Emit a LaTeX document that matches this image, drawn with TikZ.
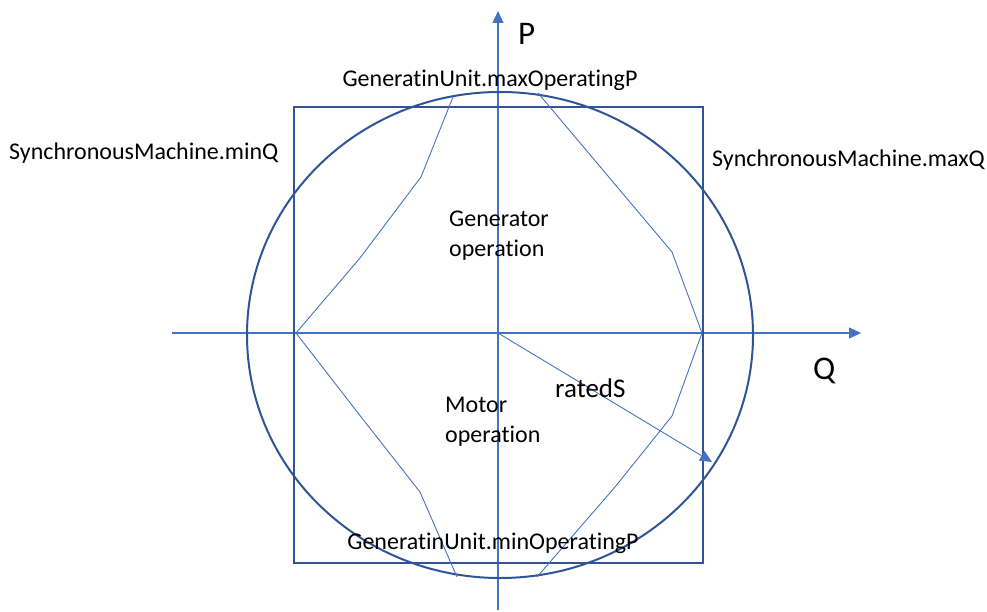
\documentclass[tikz,border=0pt]{standalone}
\usepackage{fontspec}
\setmainfont{Carlito}[Ligatures=CommonOff]
\usetikzlibrary{arrows.meta}
\definecolor{darkblue}{HTML}{2F5597}
\definecolor{lightblue}{HTML}{4472C4}
\tikzset{
  frame/.style={draw=darkblue, line width=2pt},
  axis/.style={draw=lightblue, line width=1.2pt, -{Triangle[length=12pt,width=11pt]}},
  curve/.style={draw=lightblue, line width=0.9pt, line join=round},
  lbl/.style={inner sep=0pt, font=\fontsize{24pt}{28pt}\selectfont, text=black},
  big/.style={inner sep=0pt, font=\fontsize{33pt}{38pt}\selectfont, text=black}
}
\begin{document}
\begin{tikzpicture}[x=1pt, y=-1pt]
\useasboundingbox (0,0) rectangle (987,612);
% axes
\coordinate (qs) at (172,333);
\coordinate (qe) at (861,333);
\coordinate (ps) at (498,610);
\coordinate (pe) at (498,11);
\draw[axis] (qs) -- (qe);
\draw[axis] (ps) -- (pe);
% rectangle and circle
\coordinate (r1) at (294,107);
\coordinate (r2) at (703,563);
\draw[frame] (r1) rectangle (r2);
\coordinate (c0) at (500,335);
\draw[frame] (c0) ellipse [x radius=253pt, y radius=243pt];
% capability curve
\coordinate (a1) at (453,97);
\coordinate (a2) at (421,177);
\coordinate (a3) at (360,258);
\coordinate (a4) at (296,333);
\coordinate (a5) at (358,413);
\coordinate (a6) at (420,492);
\coordinate (a7) at (457,577);
\coordinate (b1) at (538,93);
\coordinate (b2) at (672,252);
\coordinate (b3) at (702,333);
\coordinate (b4) at (672,416);
\coordinate (b5) at (615,487);
\coordinate (b6) at (537,577);
\draw[curve] (a1) -- (a2) -- (a3) -- (a4) -- (a5) -- (a6) -- (a7);
\draw[curve] (b1) -- (b2) -- (b3) -- (b4) -- (b5) -- (b6);
% ratedS arrow
\coordinate (o) at (498,333);
\coordinate (s) at (712,462);
\draw[curve, -{Triangle[length=12pt,width=11pt]}] (o) -- (s);
% labels
\node[big, anchor=base west] (plabel) at (518,45) {P};
\node[big, anchor=base west] (qlabel) at (813,379) {Q};
\node[lbl, anchor=base] (maxp) at (490,87) {GeneratinUnit.maxOperatingP};
\node[lbl, anchor=base] (minp) at (493,549) {GeneratinUnit.minOperatingP};
\node[lbl, anchor=base west] (minq) at (9,160) {SynchronousMachine.minQ};
\node[lbl, anchor=base west] (maxq) at (712,167) {SynchronousMachine.maxQ};
\node[lbl, anchor=base west] (gen1) at (449,227) {Generator};
\node[lbl, anchor=base west] (gen2) at (449,257) {operation};
\node[lbl, anchor=base west] (mot1) at (445,412) {Motor};
\node[lbl, anchor=base west] (mot2) at (445,442) {operation};
\node[lbl, anchor=base west, font=\fontsize{27pt}{32pt}\selectfont] (rated) at (555,397) {ratedS};
\end{tikzpicture}
\end{document}
